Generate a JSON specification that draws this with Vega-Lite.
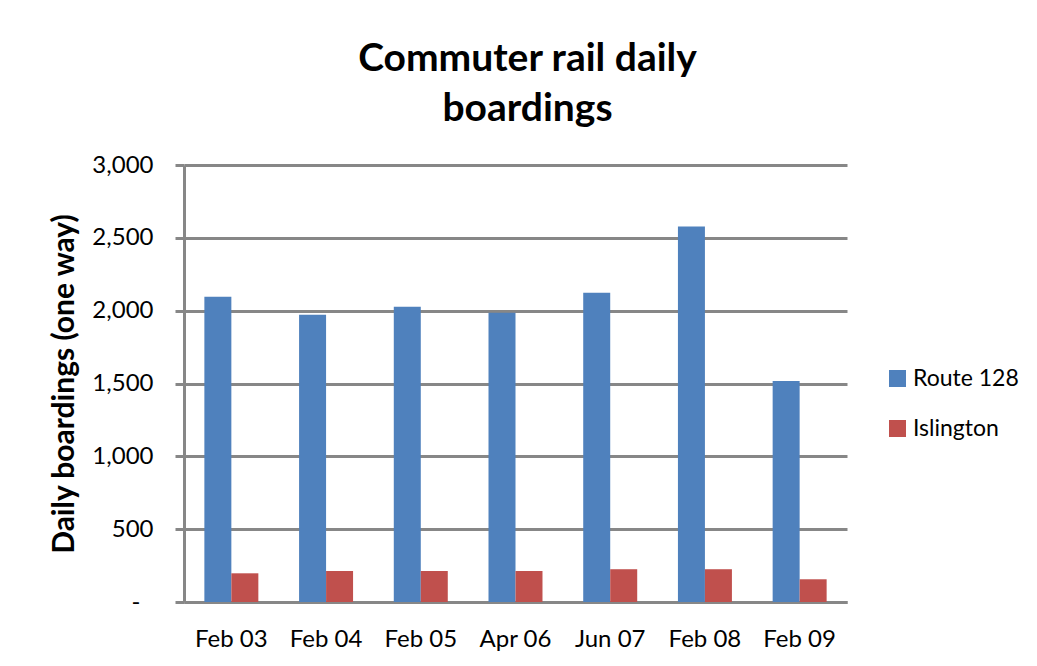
{
  "$schema": "https://vega.github.io/schema/vega-lite/v6.json",
  "autosize": {"type": "none"},
  "width": 663,
  "height": 437,
  "padding": {"left": 184, "top": 165, "right": 190, "bottom": 64},
  "background": "white",
  "title": {
    "text": ["Commuter rail daily", "boardings"],
    "font": "Lato",
    "fontSize": 39,
    "fontWeight": "bold",
    "color": "black",
    "lineHeight": 50,
    "anchor": "middle",
    "baseline": "bottom",
    "dx": 12,
    "dy": 55,
    "offset": 40
  },
  "data": {
    "values": [
      {"period": "Feb 03", "series": "Route 128", "boardings": 2095},
      {"period": "Feb 03", "series": "Islington", "boardings": 197},
      {"period": "Feb 04", "series": "Route 128", "boardings": 1972},
      {"period": "Feb 04", "series": "Islington", "boardings": 213},
      {"period": "Feb 05", "series": "Route 128", "boardings": 2027},
      {"period": "Feb 05", "series": "Islington", "boardings": 213},
      {"period": "Apr 06", "series": "Route 128", "boardings": 1986},
      {"period": "Apr 06", "series": "Islington", "boardings": 213},
      {"period": "Jun 07", "series": "Route 128", "boardings": 2123},
      {"period": "Jun 07", "series": "Islington", "boardings": 225},
      {"period": "Feb 08", "series": "Route 128", "boardings": 2577},
      {"period": "Feb 08", "series": "Islington", "boardings": 225},
      {"period": "Feb 09", "series": "Route 128", "boardings": 1518},
      {"period": "Feb 09", "series": "Islington", "boardings": 156}
    ]
  },
  "mark": {"type": "bar"},
  "encoding": {
    "x": {
      "field": "period",
      "type": "nominal",
      "sort": null,
      "scale": {"paddingInner": 0.43, "paddingOuter": 0.215},
      "axis": {
        "title": null,
        "labelAngle": 0,
        "labelFont": "Lato",
        "labelFontSize": 24,
        "labelColor": "black",
        "ticks": false,
        "tickSize": 0,
        "labelPadding": 25,
        "domainColor": "#878787",
        "domainWidth": 3,
        "grid": false
      }
    },
    "xOffset": {
      "field": "series",
      "type": "nominal",
      "scale": {"domain": ["Route 128", "Islington"], "paddingInner": 0, "paddingOuter": 0}
    },
    "y": {
      "field": "boardings",
      "type": "quantitative",
      "scale": {"domain": [0, 3000], "nice": false},
      "axis": {
        "title": "Daily boardings (one way)",
        "titleFont": "Lato",
        "titleFontSize": 30,
        "titleFontWeight": "bold",
        "titleColor": "black",
        "titlePadding": 12,
        "values": [0, 500, 1000, 1500, 2000, 2500, 3000],
        "labelExpr": "datum.value == 0 ? '-' : format(datum.value, ',d')",
        "labelFont": "Lato",
        "labelFontSize": 24,
        "labelColor": "black",
        "labelPadding": {"condition": {"test": "datum.value == 0", "value": 35}, "value": 22},
        "tickSize": 9,
        "tickColor": "#878787",
        "tickWidth": 3,
        "domainColor": "#878787",
        "domainWidth": 3,
        "grid": true,
        "gridColor": "#878787",
        "gridWidth": 3
      }
    },
    "color": {
      "field": "series",
      "type": "nominal",
      "scale": {"domain": ["Route 128", "Islington"], "range": ["#4F81BD", "#C0504D"]},
      "legend": {
        "title": null,
        "orient": "none",
        "legendX": 702,
        "legendY": 202,
        "symbolType": "square",
        "symbolSize": 289,
        "symbolStrokeWidth": 0,
        "labelFont": "Lato",
        "labelFontSize": 23,
        "labelColor": "black",
        "labelOffset": 4,
        "rowPadding": 26
      }
    }
  },
  "config": {
    "view": {"stroke": null}
  }
}
